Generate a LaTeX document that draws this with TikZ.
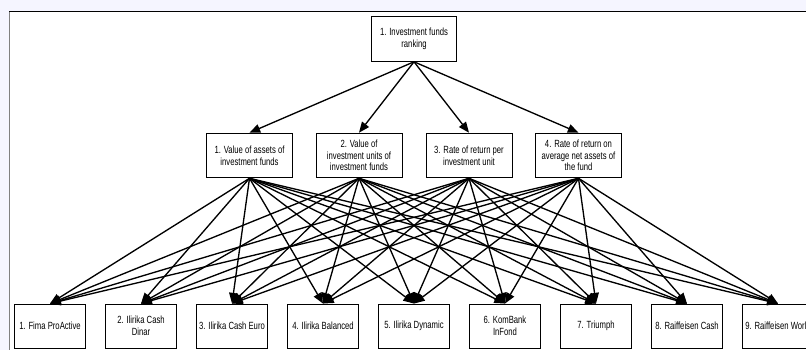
\documentclass[tikz,border=0pt]{standalone}
\usepackage{fontspec}
\setmainfont[FakeStretch=0.74]{Liberation Sans}
\usetikzlibrary{arrows.meta}
\tikzset{
    crit/.style={draw, line width=0.7pt, fill=white, align=center, inner sep=1pt,
        font=\fontsize{7.8}{8.8}\selectfont, minimum width=64.5pt, minimum height=33.5pt},
    fund/.style={crit, minimum width=53.25pt, minimum height=33pt},
    link/.style={line width=1pt, -{Triangle[length=8pt,width=6.5pt]}}
}
\begin{document}
\begin{tikzpicture}[x=0.75pt, y=-0.75pt]
	\useasboundingbox (0,0) rectangle (806,350);
	\fill[blue!4!white] (0,0) rectangle (806,350);
	\fill[white] (9.5,11.5) rectangle (806,350);
	\draw[black, line width=0.9pt] (9,11.5) -- (806,11.5);
	\draw[gray, line width=1.2pt] (9.5,11.5) -- (9.5,350);
	% goal
	\node[crit, minimum width=63.75pt] (rank) at (414,39) {1. Investment funds\\ranking};
	% criteria
	\node[crit] (c1) at (249.5,155.5) {1. Value of assets of\\investment funds};
	\node[crit] (c2) at (359,155.5) {2. Value of\\investment units of\\investment funds};
	\node[crit] (c3) at (469,155.5) {3. Rate of return per\\investment unit};
	\node[crit] (c4) at (578.5,155.5) {4. Rate of return on\\average net assets of\\the fund};
	% alternatives
	\node[fund] (f1) at (50,326) {1. Fima ProActive};
	\node[fund] (f2) at (141,326) {2. Ilirika Cash\\Dinar};
	\node[fund] (f3) at (232,326) {3. Ilirika Cash Euro};
	\node[fund] (f4) at (323,326) {4. Ilirika Balanced};
	\node[fund] (f5) at (414,326) {5. Ilirika Dynamic};
	\node[fund] (f6) at (505,326) {6. KomBank\\InFond};
	\node[fund] (f7) at (596,326) {7. Triumph};
	\node[fund] (f8) at (687,326) {8. Raiffeisen Cash};
	\node[fund] (f9) at (778,326) {9. Raiffeisen World};
	\foreach \c in {1,...,4} {
		\draw[link] (rank.south) -- (c\c.north);
		\foreach \f in {1,...,9}
			\draw[link] (c\c.south) -- (f\f.north);
	}
\end{tikzpicture}
\end{document}
